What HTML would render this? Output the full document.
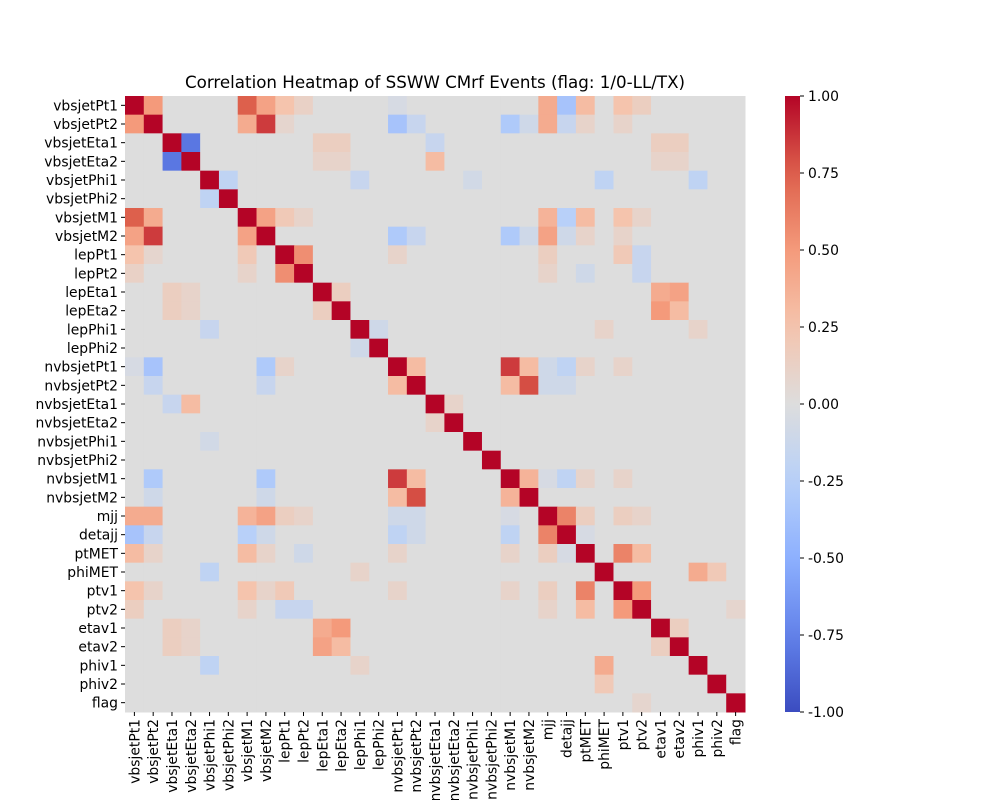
<!DOCTYPE html>
<html><head><meta charset="utf-8"><style>
body{margin:0;background:#fff;}
svg{display:block;font-family:"DejaVu Sans","Liberation Sans",sans-serif;}
</style></head><body>
<svg id="chart" width="1000" height="800" xmlns="http://www.w3.org/2000/svg">
<text x="435" y="88" text-anchor="middle" font-size="16.7">Correlation Heatmap of SSWW CMrf Events (flag: 1/0-LL/TX)</text>
<g id="cells"></g>
<g id="ylab"></g>
<g id="xlab"></g>
<defs><linearGradient id="cbg" x1="0" y1="1" x2="0" y2="0"></linearGradient></defs>
<rect x="785" y="96" width="15" height="616" fill="url(#cbg)"/>
<g id="cbticks"></g>
</svg>
<script>
const labels=["vbsjetPt1","vbsjetPt2","vbsjetEta1","vbsjetEta2","vbsjetPhi1","vbsjetPhi2","vbsjetM1","vbsjetM2","lepPt1","lepPt2","lepEta1","lepEta2","lepPhi1","lepPhi2","nvbsjetPt1","nvbsjetPt2","nvbsjetEta1","nvbsjetEta2","nvbsjetPhi1","nvbsjetPhi2","nvbsjetM1","nvbsjetM2","mjj","detajj","ptMET","phiMET","ptv1","ptv2","etav1","etav2","phiv1","phiv2","flag"];
const pairI=[0,0,0,0,0,0,0,0,0,0,0, 1,1,1,1,1,1,1,1,1,1,1, 2,2,2,2,2,2, 3,3,3,3,3, 4,4,4,4,4, 6,6,6,6,6,6,6,6, 7,7,7,7,7,7,7,7, 8,8,8,8,8, 9,9,9, 10,10,10, 11,11, 12,12,12, 14,14,14,14,14,14,14, 15,15,15,15, 16, 20,20,20,20,20, 22,22,22,22, 23, 24,24, 25,25, 26, 28, 27];
const pairJ=[1,6,7,8,9,14,22,23,24,26,27, 6,7,8,14,15,20,21,22,23,24,26, 3,10,11,16,28,29, 10,11,16,28,29, 5,12,25,30,18, 7,8,9,22,23,24,26,27, 14,15,20,21,22,23,24,26, 9,14,22,26,27, 22,24,27, 11,28,29, 28,29, 13,25,30, 15,20,21,22,23,24,26, 20,21,22,23, 17, 21,22,23,24,26, 23,24,26,27, 24, 26,27, 30,31, 27, 29, 32];
const pairV=[0.5,0.75,0.45,0.25,0.12,-0.05,0.4,-0.35,0.3,0.25,0.15, 0.4,0.85,0.08,-0.35,-0.15,-0.3,-0.1,0.4,-0.15,0.1,0.1, -0.8,0.15,0.15,-0.15,0.15,0.15, 0.1,0.1,0.3,0.1,0.1, -0.2,-0.15,-0.2,-0.2,-0.08, 0.45,0.2,0.1,0.35,-0.25,0.3,0.25,0.1, -0.3,-0.15,-0.3,-0.1,0.45,-0.1,0.1,0.1, 0.55,0.1,0.15,0.2,-0.15, 0.1,-0.1,-0.15, 0.15,0.4,0.45, 0.5,0.3, -0.1,0.1,0.1, 0.3,0.85,0.3,-0.1,-0.2,0.1,0.1, 0.3,0.8,-0.1,-0.1, 0.1, 0.35,-0.05,-0.2,0.1,0.1, 0.6,0.15,0.15,0.1, -0.05, 0.6,0.3, 0.4,0.2, 0.5, 0.15, 0.08];
const cbTicks=[1,0.75,0.5,0.25,0,-0.25,-0.5,-0.75,-1];

const NS="http://www.w3.org/2000/svg";
const X0=125,Y0=96,W=620,H=616,n=labels.length,cw=W/n,ch=H/n;
const stops=[[0,[59,76,192]],[0.125,[98,130,234]],[0.25,[141,176,254]],[0.375,[184,208,249]],[0.5,[221,221,221]],[0.625,[245,196,173]],[0.75,[244,154,123]],[0.875,[221,96,76]],[1,[180,4,38]]];
function color(v){let t=(v+1)/2;t=Math.max(0,Math.min(1,t));
 for(let k=0;k<stops.length-1;k++){const a=stops[k],b=stops[k+1];if(t<=b[0]){const f=(t-a[0])/(b[0]-a[0]);
 return `rgb(${a[1].map((c,i)=>Math.round(c+(b[1][i]-c)*f)).join(',')})`;}}return 'rgb(180,4,38)';}
const M=[];for(let i=0;i<n;i++){M.push(new Array(n).fill(0));M[i][i]=1;}
pairI.forEach((a,k)=>{const b=pairJ[k];M[a][b]=pairV[k];M[b][a]=pairV[k];});
const xs=j=>X0+j*cw, ys=i=>Y0+i*ch;
const g=document.getElementById('cells');
for(let i=0;i<n;i++)for(let j=0;j<n;j++){const r=document.createElementNS(NS,'rect');
 r.setAttribute('x',xs(j));r.setAttribute('y',ys(i));r.setAttribute('width',cw+0.5);r.setAttribute('height',ch+0.5);r.setAttribute('fill',color(M[i][j]));
 
 
 g.appendChild(r);}
const yl=document.getElementById('ylab'),xl=document.getElementById('xlab');
labels.forEach((l,i)=>{
 const cy=ys(i)+ch/2;
 const t=document.createElementNS(NS,'text');t.setAttribute('x',X0-7);t.setAttribute('y',cy+5);t.setAttribute('text-anchor','end');t.setAttribute('font-size','13.9');t.textContent=l;
 
 
 yl.appendChild(t);
 const tk=document.createElementNS(NS,'line');tk.setAttribute('x1',X0-4);tk.setAttribute('x2',X0);tk.setAttribute('y1',cy);tk.setAttribute('y2',cy);tk.setAttribute('stroke','#000');
 
 
 yl.appendChild(tk);
 const cx=xs(i)+cw/2;
 const u=document.createElementNS(NS,'text');u.setAttribute('transform',`translate(${cx+5},${Y0+H+7}) rotate(-90)`);u.setAttribute('text-anchor','end');u.setAttribute('font-size','13.9');u.textContent=l;
 
 
 xl.appendChild(u);
 const tx=document.createElementNS(NS,'line');tx.setAttribute('x1',cx);tx.setAttribute('x2',cx);tx.setAttribute('y1',Y0+H);tx.setAttribute('y2',Y0+H+4);tx.setAttribute('stroke','#000');
 
 
 xl.appendChild(tx);
});
const grad=document.getElementById('cbg');
for(let k=0;k<=20;k++){const s=document.createElementNS(NS,'stop');s.setAttribute('offset',k/20);s.setAttribute('stop-color',color(-1+k/10));grad.appendChild(s);}
const cb=document.getElementById('cbticks');
cbTicks.forEach(v=>{const y=Y0+(1-v)/2*H;
 const l=document.createElementNS(NS,'line');l.setAttribute('x1',800);l.setAttribute('x2',804);l.setAttribute('y1',y);l.setAttribute('y2',y);l.setAttribute('stroke','#000');
 
 
 cb.appendChild(l);
 const t=document.createElementNS(NS,'text');t.setAttribute('x',808);t.setAttribute('y',y+5);t.setAttribute('font-size','13.9');t.textContent=v.toFixed(2);
 
 
 cb.appendChild(t);});
</script>
</body></html>
